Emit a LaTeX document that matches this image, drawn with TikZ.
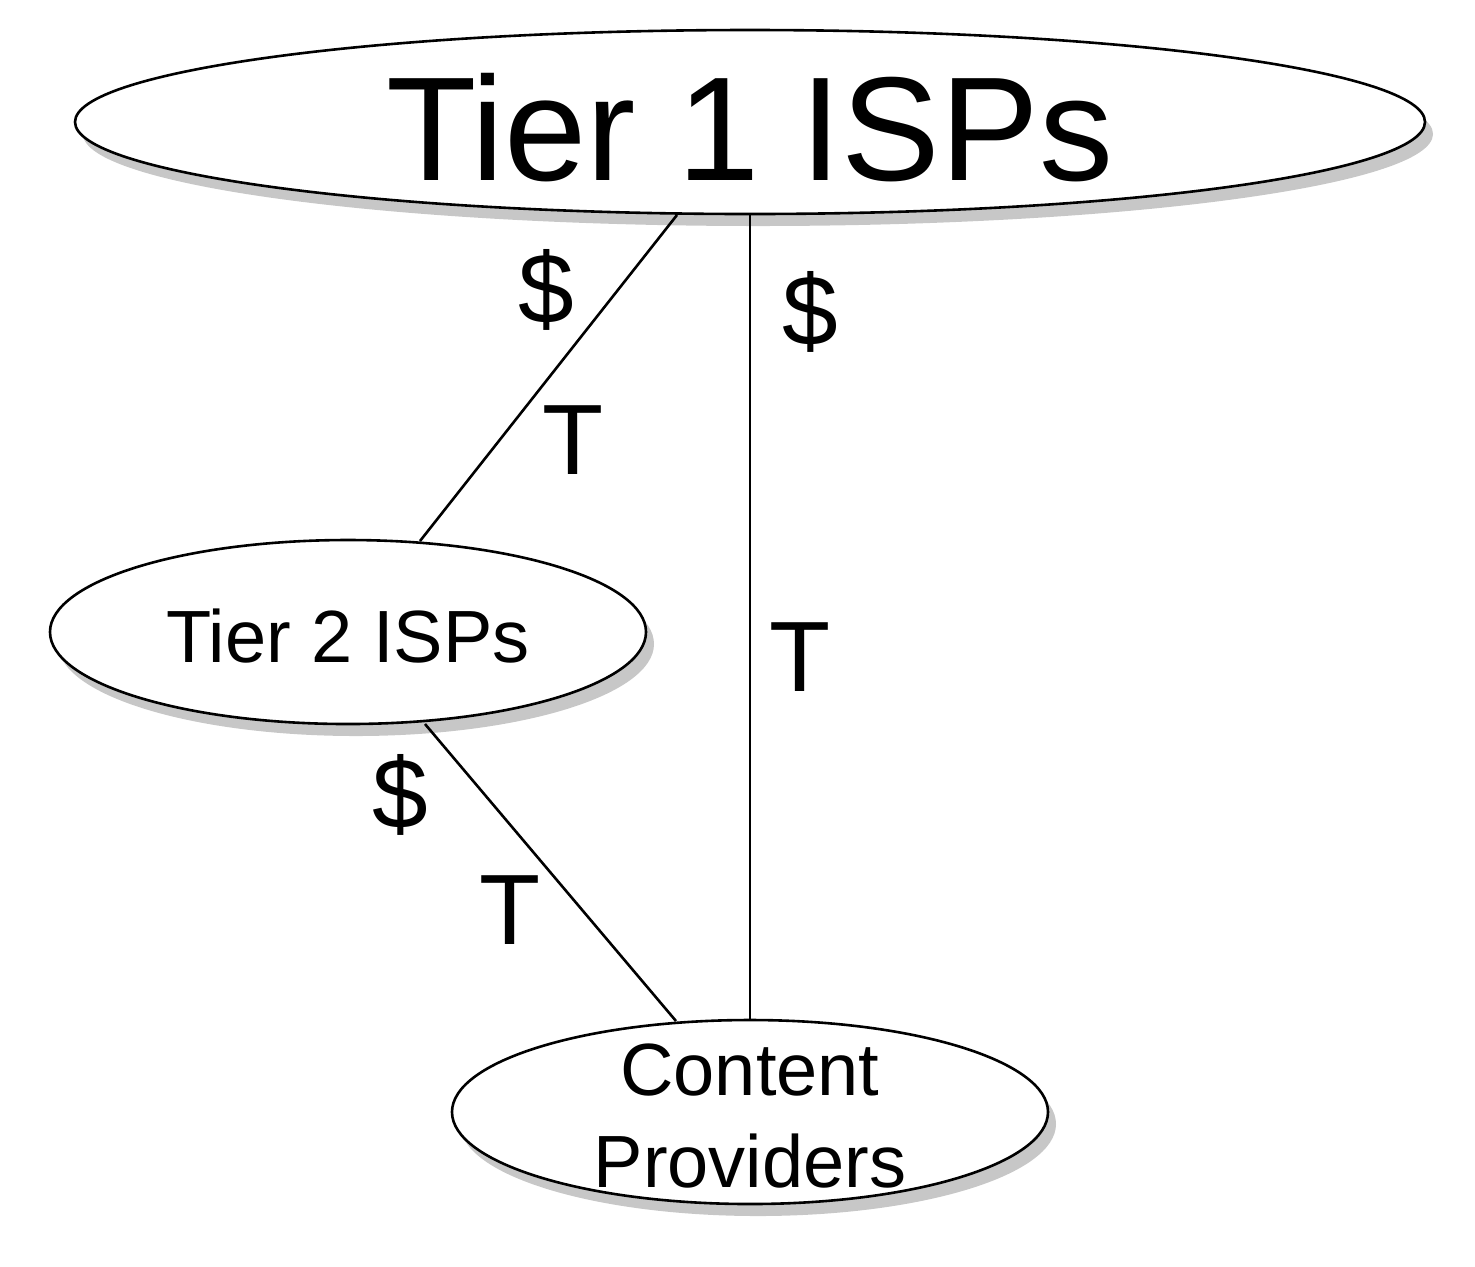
\documentclass[tikz,border=0pt]{standalone}
\usepackage{fontspec}
\setmainfont{Liberation Sans}
\usetikzlibrary{shapes.geometric,shadows}
\begin{document}
\begin{tikzpicture}[x=0.5pt,y=-0.5pt,
  isp/.style={ellipse,draw,line width=1.3pt,fill=white,inner sep=0pt,
    drop shadow={shadow xshift=4pt,shadow yshift=-6pt,fill=black!40,opacity=0.55}},
  lnk/.style={line width=1.3pt},
  lab/.style={font=\fontsize{50}{50}\selectfont}]
\useasboundingbox (0,0) rectangle (1475,1266);
\node[isp,minimum width=675pt,minimum height=92pt] (t1) at (750,122) {};
\node[font=\fontsize{74}{74}\selectfont] (t1t) at (750,128) {Tier 1 ISPs};
\node[isp,minimum width=298pt,minimum height=92pt] (t2) at (348,632) {};
\node[font=\fontsize{37}{37}\selectfont] (t2t) at (348,636) {Tier 2 ISPs};
\node[isp,minimum width=298pt,minimum height=92pt] (cp) at (750,1112) {};
\node[font=\fontsize{37}{46}\selectfont,align=center] (cpt) at (750,1116) {Content\\Providers};
\coordinate (a1) at (677,215); \coordinate (a2) at (420,541);
\coordinate (b1) at (750,215); \coordinate (b2) at (750,1020);
\coordinate (c1) at (425,724); \coordinate (c2) at (676,1021);
\draw[lnk] (a1) -- (a2);
\draw[lnk] (b1) -- (b2);
\draw[lnk] (c1) -- (c2);
\node[lab] (l1) at (546,290) {\$};
\node[lab] (l2) at (573,440) {T};
\node[lab] (l3) at (810,312) {\$};
\node[lab] (l4) at (800,657) {T};
\node[lab] (l5) at (400,795) {\$};
\node[lab] (l6) at (510,910) {T};
\end{tikzpicture}
\end{document}
